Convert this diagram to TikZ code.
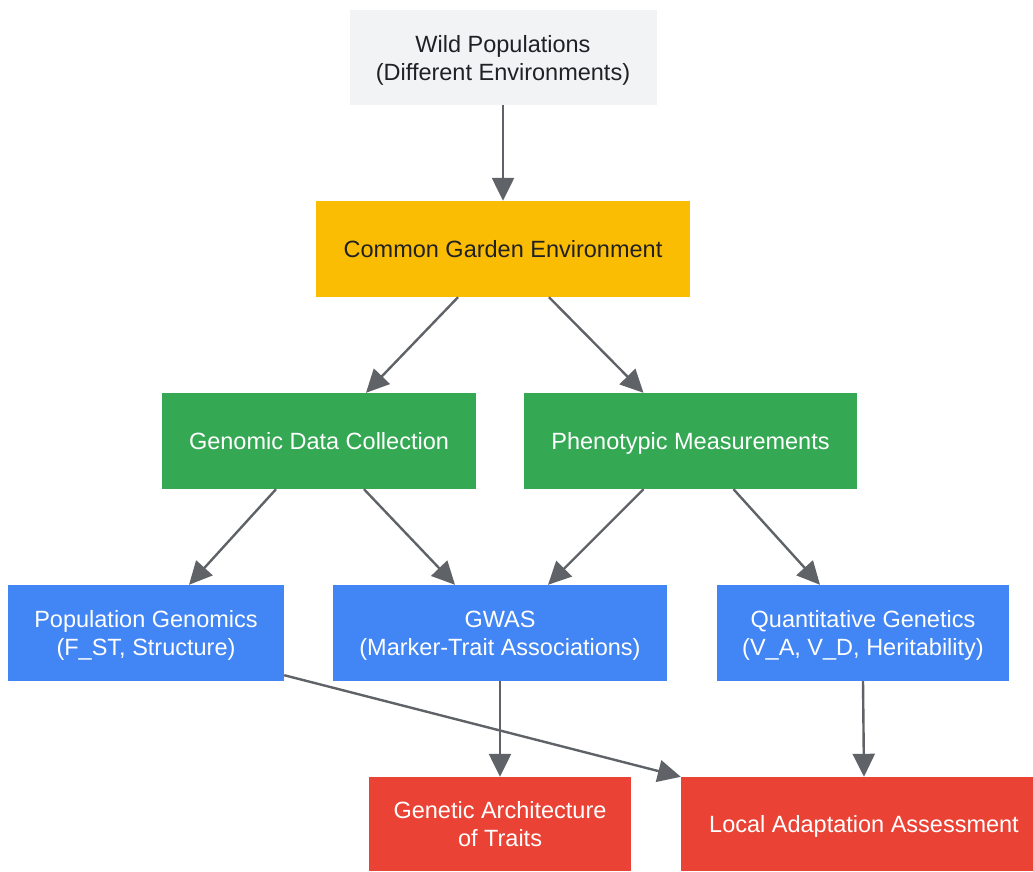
\documentclass[tikz,border=0pt]{standalone}
\usepackage{fontspec}
\setmainfont{Liberation Sans}
\usepackage{tikz}
\usetikzlibrary{arrows.meta,calc}

\definecolor{boxgray}{RGB}{241,243,244}
\definecolor{boxyellow}{RGB}{251,188,4}
\definecolor{boxgreen}{RGB}{52,168,83}
\definecolor{boxblue}{RGB}{66,133,244}
\definecolor{boxred}{RGB}{234,67,53}
\definecolor{linkgray}{RGB}{95,99,104}
\definecolor{textdark}{RGB}{32,33,36}

\tikzset{
  box/.style={rectangle, inner sep=0pt, align=center, text depth=0pt, font=\fontsize{23.5}{28}\selectfont},
  link/.style={draw=linkgray, line width=2.4pt, -{Triangle[length=23pt,width=22pt]}},
}

\begin{document}
\begin{tikzpicture}[x=1pt,y=1pt,yscale=-1,xscale=1]
\useasboundingbox (0,0) rectangle (1033,871);

%Nodes
\node [box, fill=boxgray, text=textdark, minimum width=307pt, minimum height=95pt] (wild) at (503,57.5) {Wild Populations\\(Different Environments)};
\node [box, fill=boxyellow, text=textdark, minimum width=374pt, minimum height=96pt] (garden) at (503,249) {Common Garden Environment};
\node [box, fill=boxgreen, text=white, minimum width=314pt, minimum height=96pt] (genomic) at (319,441) {Genomic Data Collection};
\node [box, fill=boxgreen, text=white, minimum width=333pt, minimum height=96pt] (pheno) at (690.5,441) {Phenotypic Measurements};
\node [box, fill=boxblue, text=white, minimum width=276pt, minimum height=96pt] (popgen) at (146,633) {Population Genomics\\(F\_ST, Structure)};
\node [box, fill=boxblue, text=white, minimum width=334pt, minimum height=96pt] (gwas) at (500,633) {GWAS\\(Marker-Trait Associations)};
\node [box, fill=boxblue, text=white, minimum width=292pt, minimum height=96pt] (quant) at (863,633) {Quantitative Genetics\\(V\_A, V\_D, Heritability)};
\node [box, fill=boxred, text=white, minimum width=262pt, minimum height=94pt] (arch) at (500,824) {Genetic Architecture\\of Traits};
\node [box, fill=boxred, text=white, minimum width=366pt, minimum height=94pt] (local) at (864,824) {Local Adaptation Assessment};

%Connectors
\draw [link] (wild.south) -- (garden.north);
\draw [link] ($(garden.south)+(-45,0)$) -- ($(genomic.north)+(47,0)$);
\draw [link] ($(garden.south)+(46,0)$) -- ($(pheno.north)+(-47,0)$);
\draw [link] ($(genomic.south)+(-43,0)$) -- ($(popgen.north)+(43,0)$);
\draw [link] ($(genomic.south)+(45,0)$) -- ($(gwas.north)+(-45,0)$);
\draw [link] ($(pheno.south)+(-47,0)$) -- ($(gwas.north)+(48,0)$);
\draw [link] ($(pheno.south)+(43,0)$) -- ($(quant.north)+(-43,0)$);
\draw [link] (gwas.south) -- (arch.north);
\draw [link] (quant.south) -- (local.north);
\coordinate (popgenout) at ($(popgen.south east)+(0,-6)$);
\draw [link] (popgenout) -- (local.north west);
\end{tikzpicture}
\end{document}
